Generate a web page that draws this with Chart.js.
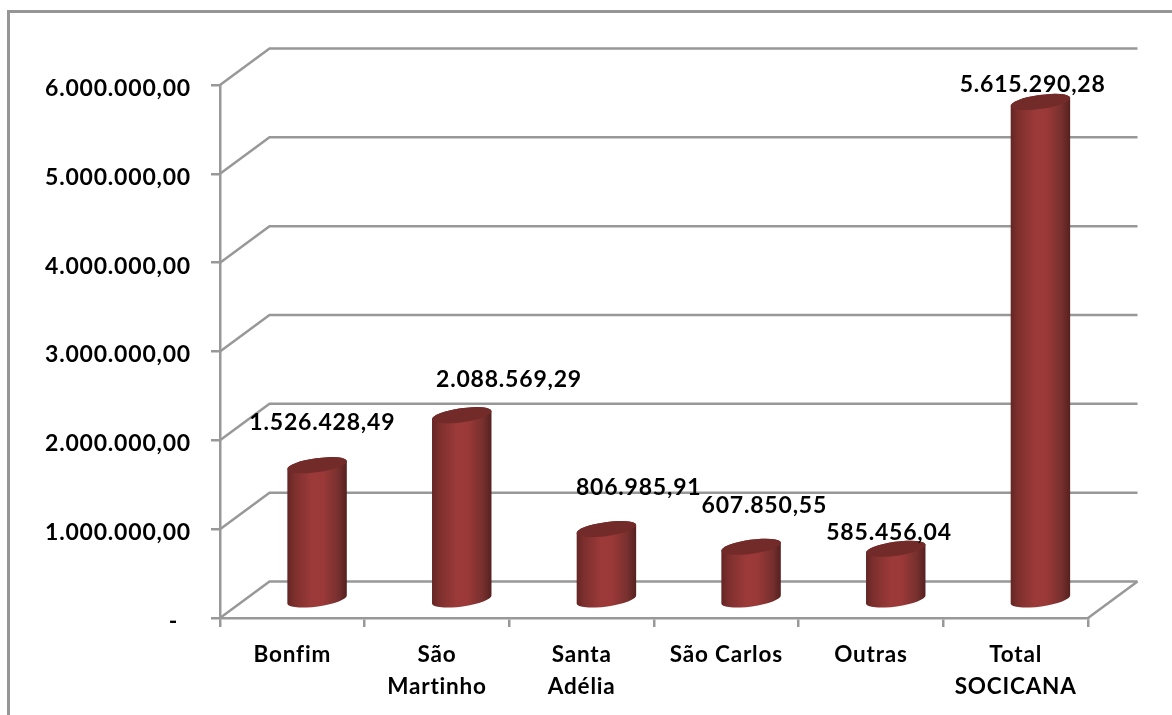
<!DOCTYPE html>
<html><head><meta charset="utf-8">
<style>html,body{margin:0;padding:0;background:#fff;overflow:hidden}
#wrap{position:relative;width:1172px;height:715px}
#frame{position:absolute;left:7px;top:10px;width:1172px;height:720px;border:3px solid #969696;box-sizing:border-box}
canvas{position:absolute;left:0;top:0}</style>
<script src="https://cdn.jsdelivr.net/npm/chart.js@4/dist/chart.umd.min.js"></script>
</head><body><div id="wrap"><div id="frame"></div><canvas id="c" width="1172" height="715"></canvas></div>
<script>
const categories = [["Bonfim"],["São","Martinho"],["Santa","Adélia"],["São Carlos"],["Outras"],["Total","SOCICANA"]];
const values = [1526428.49,2088569.29,806985.91,607850.55,585456.04,5615290.28];
const dataLabels = ["1.526.428,49","2.088.569,29","806.985,91","607.850,55","585.456,04","5.615.290,28"];
const yMax = 6000000, yStep = 1000000;

const FONT = '700 23px Lato';
const GRID = '#989898';
const LINE = 2.5;
const DEPTH_X = 49.5, DEPTH_Y = -36.5;
const labelShift = [[30,-42],[72,-35],[57,-40],[38,-40],[18,-15],[17,-16]];

const walls = {
  id:'walls',
  beforeDraw(ch){
    ch.ctx.letterSpacing='0.8px';
    ch.scales.y.getLabelItems().forEach(it=>{it.options.translation[1]+=3.5});
  },
  beforeDatasetsDraw(ch){
    const {ctx,chartArea:a,scales:{y}} = ch;
    ctx.save();ctx.strokeStyle=GRID;ctx.lineWidth=LINE;
    y.ticks.forEach(t=>{
      const py=y.getPixelForValue(t.value);
      ctx.beginPath();ctx.moveTo(a.left,py);ctx.lineTo(a.left+DEPTH_X,py+DEPTH_Y);ctx.lineTo(a.right+DEPTH_X,py+DEPTH_Y);ctx.stroke();
    });
    ctx.beginPath();ctx.moveTo(a.right,a.bottom);ctx.lineTo(a.right+DEPTH_X,a.bottom+DEPTH_Y);ctx.stroke();
    ctx.restore();
  }
};
const cylinders = {
  id:'cylinders',
  beforeDatasetDraw(ch,args){
    const ctx=ch.ctx, meta=args.meta;
    const tilt=-8*Math.PI/180, ry=7;
    meta.data.forEach((el,i)=>{
      const cx=el.x+DEPTH_X/2, top=el.y+DEPTH_Y/2+1, base=el.base+DEPTH_Y/2+1, rx=el.width/2;
      const dx=rx*Math.cos(tilt), dy=rx*Math.sin(tilt);
      const g=ctx.createLinearGradient(cx-rx,0,cx+rx,0);
      g.addColorStop(0,'#632524');g.addColorStop(.12,'#7c2f2d');g.addColorStop(.42,'#9c3a39');
      g.addColorStop(.6,'#9a3938');g.addColorStop(.85,'#77302e');g.addColorStop(1,'#54201f');
      ctx.save();
      ctx.fillStyle=g;ctx.beginPath();
      ctx.moveTo(cx-dx,top-dy);ctx.lineTo(cx-dx,base-dy);
      ctx.ellipse(cx,base,rx,ry,tilt,Math.PI,0,true);
      ctx.lineTo(cx+dx,top+dy);
      ctx.ellipse(cx,top,rx,ry,tilt,0,Math.PI,true);
      ctx.closePath();ctx.fill();
      ctx.fillStyle='#722b29';ctx.beginPath();ctx.ellipse(cx,top,rx,ry,tilt,0,Math.PI*2);ctx.fill();
      ctx.restore();
    });
    return false;
  },
  afterDatasetsDraw(ch){
    const ctx=ch.ctx, meta=ch.getDatasetMeta(0);
    ctx.save();ctx.font=FONT;ctx.fillStyle='#000';ctx.textAlign='center';ctx.textBaseline='middle';
    meta.data.forEach((el,i)=>{
      ctx.fillText(dataLabels[i],el.x+labelShift[i][0],el.y+DEPTH_Y/2+labelShift[i][1]);
    });
    ctx.restore();
  }
};

new Chart(document.getElementById('c'),{
  type:'bar',
  data:{labels:categories,datasets:[{data:values,backgroundColor:'#9c3a39',barPercentage:0.415,categoryPercentage:1}]},
  plugins:[walls,cylinders],
  options:{
    responsive:false,animation:false,devicePixelRatio:1,
    layout:{padding:{top:85,right:84,left:0,bottom:0}},
    plugins:{legend:{display:false},tooltip:{enabled:false},title:{display:false}},
    scales:{
      x:{
        afterFit(s){s.height=97},
        grid:{drawOnChartArea:false,drawTicks:true,tickLength:9,color:GRID,lineWidth:LINE},
        border:{color:GRID,width:LINE},
        ticks:{font:{family:'Lato',size:22.5,weight:700,lineHeight:1.42},color:'#000',maxRotation:0,autoSkip:false,padding:12}
      },
      y:{
        min:0,max:yMax,
        afterFit(s){s.width=220},
        grid:{drawOnChartArea:false,drawTicks:true,tickLength:9,color:GRID,lineWidth:LINE},
        border:{color:GRID,width:LINE},
        ticks:{stepSize:yStep,font:{family:'Lato',size:23,weight:700},color:'#000',padding:20,
          callback:v=>v===0?'-\u00a0\u00a0':v.toLocaleString('pt-BR',{minimumFractionDigits:2,maximumFractionDigits:2})}
      }
    }
  }
});
</script></body></html>
